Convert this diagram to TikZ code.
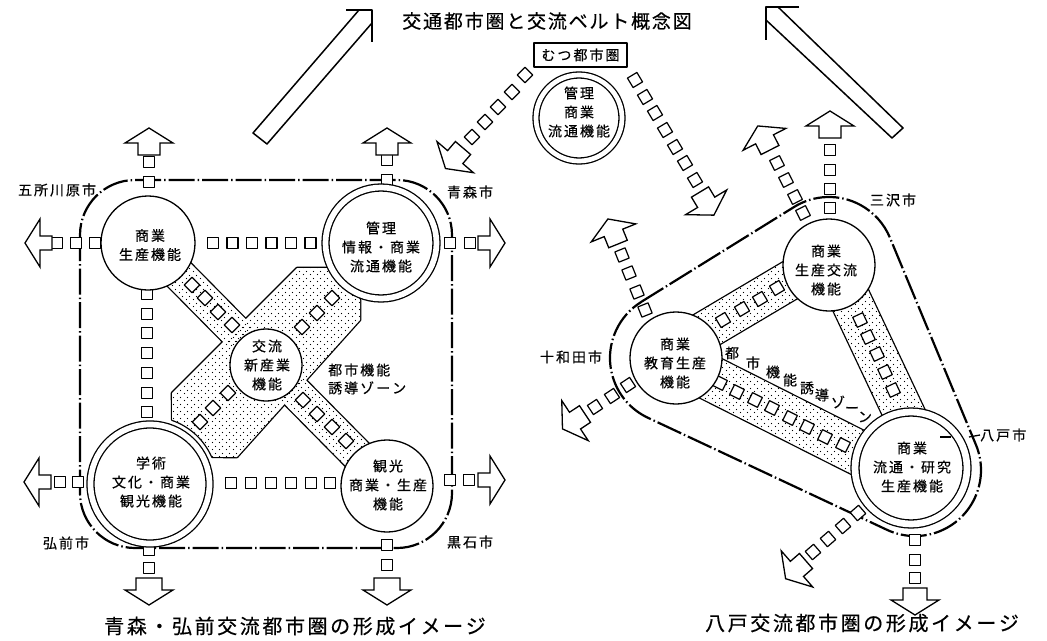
\documentclass[tikz,border=0pt]{standalone}
\usepackage{fontspec}
\setmainfont{Noto Sans CJK JP}[FakeBold=0.4]
\usetikzlibrary{calc,patterns.meta}
\makeatletter
\newdimen\lspk \lspk=2pt
\def\lsp#1{\lspA#1\relax}
\def\lspA#1#2{#1\ifx\relax#2\expandafter\@gobble\else\kern\lspk\expandafter\@firstofone\fi{\lspA#2}}
\def\lspw#1#2{\lspk=#1\relax\lsp{#2}}
\makeatother
\tikzdeclarepattern{
  name=stip,
  type=uncolored,
  bottom left={(0pt,0pt)},
  top right={(6.5pt,6.5pt)},
  tile size={(6.5pt,6.5pt)},
  code={
    \pgfpathcircle{\pgfpoint{1.6pt}{1.6pt}}{0.6pt}
    \pgfpathcircle{\pgfpoint{4.85pt}{4.85pt}}{0.6pt}
    \pgfusepath{fill}
  }
}
\tikzset{
  ln/.style={line width=1.3pt},
  bigarrow/.style={line width=1.5pt},
  bound/.style={line width=2.2pt, dash pattern=on 26pt off 3pt on 1.5pt off 3pt},
  ring/.style={circle, draw, line width=1.3pt, fill=white, inner sep=0pt},
  dring/.style={ring, double, double distance=#1},
  ctext/.style={align=center, inner sep=0pt, font=\fontsize{14}{19}\selectfont},
  lbl/.style={inner sep=0pt, font=\fontsize{14}{17}\selectfont},
  ttl/.style={inner sep=0pt, font=\fontsize{20}{24}\selectfont},
  bandedge/.style={line width=2.6pt},
  pics/sqr/.style={code={\draw[line width=1.2pt, fill=white] (-5.5,-5.5) rectangle (5.5,5.5);}},
  pics/barrow/.style={code={\draw[line width=1.3pt, fill=white, line join=miter] (-#1,0) -- (-#1,12) -- (-24,12) -- (0,27) -- (24,12) -- (#1,12) -- (#1,0) -- cycle;}},
}
\begin{document}
\begin{tikzpicture}[x=1pt,y=1pt,line join=round]
\useasboundingbox (0,0) rectangle (1047,-640);

% ---------- titles ----------
\node[inner sep=0pt, font=\fontsize{19}{22}\selectfont] (title) at (547,-21) {\lspw{1.8pt}{交通都市圏と交流ベルト概念図}};
\node[ttl] (titleL) at (295,-626) {\lspw{2.6pt}{青森・弘前交流都市圏の形成イメージ}};
\node[ttl] (titleR) at (862,-623) {\lspw{2.6pt}{八戸交流都市圏の形成イメージ}};

% ---------- big open arrows ----------
\draw[bigarrow] (346,-10) -- (372,-10) -- (372,-42);
\draw[bigarrow] (359,-10) -- (253,-133) -- (267,-144) -- (372,-23);
\draw[bigarrow] (799,-7) -- (766,-7) -- (766,-40);
\draw[bigarrow] (778,-7) -- (903,-128) -- (892,-138) -- (766,-20);

% ---------- boundaries ----------
\draw[bound, rounded corners=55pt] (80,-180) rectangle (452,-548);
\draw[bound] (641.2,-301.9) -- (794.2,-206.9) arc[start angle=121.8,end angle=22.6,radius=66]
  -- (975.9,-444.7) arc[start angle=22.6,end angle=-115.1,radius=66]
  -- (648.0,-417.8) arc[start angle=244.9,end angle=121.8,radius=66] -- cycle;

% ---------- stippled zones ----------
\def\bandA{(159.4,-231.8) -- (398.4,-473.8) -- (375.6,-496.2) -- (136.6,-254.2) -- cycle}
\def\bandB{(297,-268) -- (330,-268) -- (355,-290) -- (360,-300) -- (360,-320) -- (237,-457) -- (212.4,-456.9) arc[start angle=23.5,end angle=71,radius=68] -- (172,-393) -- cycle}
\def\bandTL{(689.7,-361.8) -- (829.7,-278.8) -- (810.3,-246.2) -- (670.3,-329.2) -- cycle}
\def\bandTH{(858.9,-270.8) -- (928.1,-417.5) -- (891.9,-434.5) -- (822.7,-287.8) -- cycle}
\def\bandLH{(694.2,-345.4) -- (888.6,-443.4) -- (868.8,-482.6) -- (674.4,-384.6) -- cycle}
\draw[bandedge] \bandA; \draw[bandedge] \bandB;
\draw[bandedge] \bandTL; \draw[bandedge] \bandTH; \draw[bandedge] \bandLH;
\fill[white] \bandA; \fill[white] \bandB;
\fill[white] \bandTL; \fill[white] \bandTH; \fill[white] \bandLH;
\fill[pattern=stip] \bandA; \fill[pattern=stip] \bandB;
\fill[pattern=stip] \bandTL; \fill[pattern=stip] \bandTH; \fill[pattern=stip] \bandLH;

% ---------- chains of squares: left diagram ----------
\foreach \x in {213,232.5,252,271.5,291,310.5} \pic at (\x,-243) {sqr};
\foreach \x in {231,251,271,291,311,330} \pic at (\x,-483) {sqr};
\foreach \y in {294,314,333,353,373,393,412} \pic at (147,-\y) {sqr};
\foreach \x/\y in {192/285,205/298,218/312,232/325,303/400,317/414,332/427,346/441,332/298,317/313,302/327,228/393,213/408,200/422}
  \pic[rotate=45] at (\x,-\y) {sqr};
\foreach \x/\y in {57/243,76/243,95/243,60/482,78/482,450/243,470/243,450/480,469/480,149/162,149/182,387/160,387/180,149/550,149/568,387/545,387/565}
  \pic at (\x,-\y) {sqr};

% ---------- chains: mutsu ----------
\foreach \x/\y in {525/75,512/92,498/107,485/122,472/137} \pic[rotate=45] at (\x,-\y) {sqr};
\foreach \x/\y in {635/80,645/97,655/113,665/130,675/147,685/163,695/180} \pic[rotate=31] at (\x,-\y) {sqr};

% ---------- chains: right diagram ----------
\foreach \y in {150,170,189,208} \pic at (830,-\y) {sqr};
\foreach \x/\y in {803/213,795/197,786/180,777/163} \pic[rotate=27] at (\x,-\y) {sqr};
\foreach \x/\y in {645/310,637/292,629/273,622/255} \pic[rotate=22] at (\x,-\y) {sqr};
\foreach \x/\y in {628/385,612/396,595/407} \pic[rotate=33.5] at (\x,-\y) {sqr};
\foreach \x/\y in {858/513,843/526,828/539,813/552} \pic[rotate=41] at (\x,-\y) {sqr};
\foreach \y in {540,560,578} \pic at (915,-\y) {sqr};
\foreach \x/\y in {723/320,742/309,760/299,777/288} \pic[rotate=30.7] at (\x,-\y) {sqr};
\foreach \x/\y in {860/320,868/337,877/354,885/372,893/390} \pic[rotate=-64.8] at (\x,-\y) {sqr};
\foreach \x/\y in {720/383,737/392,755/400,772/408,790/418,807/427,825/437,843/445} \pic[rotate=-26.7] at (\x,-\y) {sqr};

% ---------- circles ----------
\node[ring, minimum size=94] (c1) at (148,-243) {};
\node[dring=5.7pt, minimum size=111] (c2) at (381,-243) {};
\node[ring, minimum size=72] (c3) at (266,-365) {};
\node[dring=5.7pt, minimum size=119] (c4) at (150,-484) {};
\node[ring, minimum size=92] (c5) at (387,-486) {};
\node[ring, minimum size=92] (rT) at (829,-265) {};
\node[ring, minimum size=92] (rL) at (676,-358) {};
\node[dring=6.7pt, minimum size=112] (rH) at (911,-468) {};
\node[dring=4.7pt, minimum size=86] (mc) at (579,-118) {};
\node[draw, line width=1.3pt, fill=white, minimum width=93, minimum height=24, inner sep=0pt, font=\fontsize{14}{16}\selectfont] (mbox) at (580.5,-55) {\lsp{むつ都市圏}};

% ---------- circle texts ----------
\node[ctext] (t1) at (150,-245) {\lsp{商業}\\\lsp{生産機能}};
\node[ctext] (t2) at (381,-247) {\lsp{管理}\\\lsp{情報・商業}\\\lsp{流通機能}};
\node[ctext] (t3) at (267,-365) {\lsp{交流}\\\lsp{新産業}\\\lsp{機能}};
\node[ctext] (t4) at (151,-482) {\lsp{学術}\\\lsp{文化・商業}\\\lsp{観光機能}};
\node[ctext] (t5) at (388,-485) {\lsp{観光}\\\lsp{商業・生産}\\\lsp{機能}};
\node[ctext] (tT) at (826,-270) {\lsp{商業}\\\lsp{生産交流}\\\lsp{機能}};
\node[ctext] (tL) at (675,-363) {\lsp{商業}\\\lsp{教育生産}\\\lsp{機能}};
\node[ctext] (tH) at (912,-467) {\lsp{商業}\\\lsp{流通・研究}\\\lsp{生産機能}};
\node[ctext] (tm) at (579,-112) {\lsp{管理}\\\lsp{商業}\\\lsp{流通機能}};

% ---------- zone labels ----------
\node[lbl, anchor=west, align=left, font=\fontsize{14}{18}\selectfont] (zoneL) at (328,-379) {\lsp{都市機能}\\\lsp{誘導ゾーン}};
\foreach \c/\x/\y [count=\i] in {都/732/353,市/753/363,機/773/372,能/790/380,誘/807/388,導/822/395,ゾ/838/402,ー/852/410,ン/865/417}
  \node[lbl] (zr\i) at (\x,-\y) {\c};

% ---------- city labels ----------
\node[lbl] (gosho) at (57,-190) {\lsp{五所川原市}};
\node[lbl] (aomori) at (470,-192) {\lsp{青森市}};
\node[lbl] (hirosaki) at (66,-543) {\lsp{弘前市}};
\node[lbl] (kuroishi) at (470,-542) {\lsp{黒石市}};
\node[lbl] (misawa) at (893,-200) {\lsp{三沢市}};
\node[lbl] (towada) at (571,-357) {\lsp{十和田市}};
\node[lbl, anchor=west] (hachi) at (980,-435) {\lsp{八戸市}};
\draw[ln] (940,-437) -- (951,-437);
\draw[ln] (969,-437) -- (hachi.west);

% ---------- block arrows ----------
\pic at (149,-155) {barrow=11};
\pic at (387,-155) {barrow=11};
\pic[rotate=90] at (52,-243) {barrow=7};
\pic[rotate=-90] at (478,-243) {barrow=7};
\pic[rotate=90] at (51,-482) {barrow=7};
\pic[rotate=-90] at (478,-480) {barrow=7};
\pic[rotate=180] at (149,-578) {barrow=13};
\pic[rotate=180] at (387,-578) {barrow=13};
\pic at (830,-138) {barrow=11};
\pic[rotate=27] at (770,-150) {barrow=10};
\pic[rotate=22] at (618,-244) {barrow=10};
\pic[rotate=123.5] at (585,-414) {barrow=10};
\pic[rotate=131] at (806,-561) {barrow=10};
\pic[rotate=180] at (915,-588) {barrow=12};
\pic[rotate=139.5] at (463,-148) {barrow=10};
\pic[rotate=-149] at (700,-192) {barrow=10};
\end{tikzpicture}
\end{document}
